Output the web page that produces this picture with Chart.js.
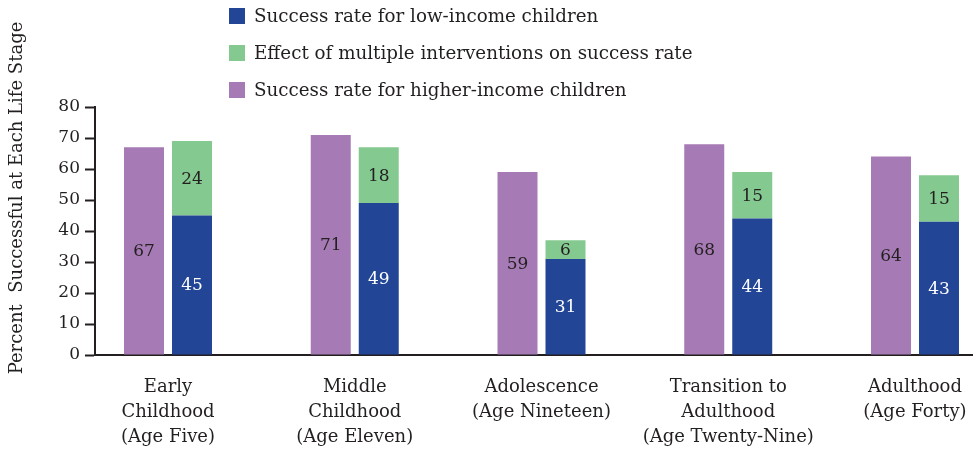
<!DOCTYPE html>
<html>
<head>
<meta charset="utf-8">
<script src="https://cdn.jsdelivr.net/npm/chart.js@4"></script>
<style>
  html, body { margin: 0; padding: 0; background: #ffffff; }
  #wrap { width: 973px; height: 455px; position: relative; }
</style>
</head>
<body>
<div id="wrap"><canvas id="chart" width="973" height="455"></canvas></div>
<script>
// Life stages, one multi-line label each
const categories = [
  ["Early", "Childhood", "(Age Five)"],
  ["Middle", "Childhood", "(Age Eleven)"],
  ["Adolescence", "(Age Nineteen)"],
  ["Transition to", "Adulthood", "(Age Twenty-Nine)"],
  ["Adulthood", "(Age Forty)"]
];

// Percent successful at each stage
const higherIncome = [67, 71, 59, 68, 64];
const lowIncome = [45, 49, 31, 44, 43];
const interventionEffect = [24, 18, 6, 15, 15];

const yTicks = [0, 10, 20, 30, 40, 50, 60, 70, 80];

const seriesNames = {
  low: "Success rate for low-income children",
  effect: "Effect of multiple interventions on success rate",
  high: "Success rate for higher-income children"
};

const INK = "#231f20";
const SERIF = "'DejaVu Serif', 'Liberation Serif', serif";

const toPoints = arr => arr.map((v, i) => ({ x: i, y: v }));

// Legend: vertical list, left-aligned, above the plot
const legendPlugin = {
  id: "stackedLegend",
  afterDraw(chart) {
    const ctx = chart.ctx;
    const order = [1, 2, 0];
    ctx.save();
    ctx.font = "18.3px " + SERIF;
    ctx.textBaseline = "middle";
    ctx.textAlign = "left";
    order.forEach((di, row) => {
      const ds = chart.data.datasets[di];
      const cy = 16 + row * 37;
      ctx.fillStyle = ds.backgroundColor;
      ctx.fillRect(229, cy - 8, 16, 16);
      ctx.fillStyle = INK;
      ctx.fillText(ds.label, 254, cy + 1);
    });
    ctx.restore();
  }
};

// Rotated y-axis title
const yTitlePlugin = {
  id: "yTitle",
  afterDraw(chart) {
    const ctx = chart.ctx;
    ctx.save();
    ctx.translate(17, 198);
    ctx.rotate(-Math.PI / 2);
    ctx.font = "18px " + SERIF;
    ctx.fillStyle = INK;
    ctx.textAlign = "center";
    ctx.textBaseline = "middle";
    ctx.fillText("Percent  Successful at Each Life Stage", 0, 0);
    ctx.restore();
  }
};

// Value printed in the middle of each bar segment
const valueLabels = {
  id: "valueLabels",
  afterDatasetsDraw(chart) {
    const ctx = chart.ctx;
    ctx.save();
    ctx.font = "17px " + SERIF;
    ctx.textAlign = "center";
    ctx.textBaseline = "middle";
    chart.data.datasets.forEach((ds, di) => {
      const meta = chart.getDatasetMeta(di);
      meta.data.forEach((bar, i) => {
        const v = ds.data[i].y;
        ctx.fillStyle = ds.labelColor;
        ctx.fillText(String(v), bar.x, (bar.y + bar.base) / 2 + 1);
      });
    });
    ctx.restore();
  }
};

new Chart(document.getElementById("chart"), {
  type: "bar",
  data: {
    datasets: [
      {
        label: seriesNames.high,
        data: toPoints(higherIncome),
        backgroundColor: "#a67bb5",
        labelColor: INK,
        stack: "higher"
      },
      {
        label: seriesNames.low,
        data: toPoints(lowIncome),
        backgroundColor: "#224596",
        labelColor: "#ffffff",
        stack: "low"
      },
      {
        label: seriesNames.effect,
        data: toPoints(interventionEffect),
        backgroundColor: "#84c98f",
        labelColor: INK,
        stack: "low"
      }
    ]
  },
  options: {
    responsive: false,
    animation: false,
    devicePixelRatio: 1,
    categoryPercentage: 0.514,
    barPercentage: 0.8333,
    layout: { padding: { top: 107, left: 0, right: 0, bottom: 0 } },
    plugins: {
      legend: { display: false },
      tooltip: { enabled: false }
    },
    scales: {
      x: {
        type: "linear",
        offset: false,
        min: -0.3909,
        max: 4.3106,
        grid: { display: false, drawTicks: false },
        border: { display: true, color: INK, width: 2 },
        afterBuildTicks: s => { s.ticks = categories.map((_, i) => ({ value: i })); },
        afterFit: s => { s.height = 100; s.paddingLeft = 0; s.paddingRight = 0; },
        ticks: {
          autoSkip: false,
          maxRotation: 0,
          minRotation: 0,
          padding: 20,
          color: INK,
          font: { family: SERIF, size: 18, lineHeight: 1.39 },
          callback: (v, i) => categories[i]
        }
      },
      y: {
        stacked: true,
        min: 0,
        max: 80,
        grid: {
          display: true,
          drawOnChartArea: false,
          drawTicks: true,
          tickLength: 10,
          tickWidth: 2,
          tickColor: INK
        },
        border: { display: true, color: INK, width: 2 },
        afterBuildTicks: s => { s.ticks = yTicks.map(v => ({ value: v })); },
        afterFit: s => { s.width = 95; },
        ticks: {
          padding: 5,
          color: INK,
          font: { family: SERIF, size: 17 }
        }
      }
    }
  },
  plugins: [valueLabels, legendPlugin, yTitlePlugin]
});
</script>
</body>
</html>
